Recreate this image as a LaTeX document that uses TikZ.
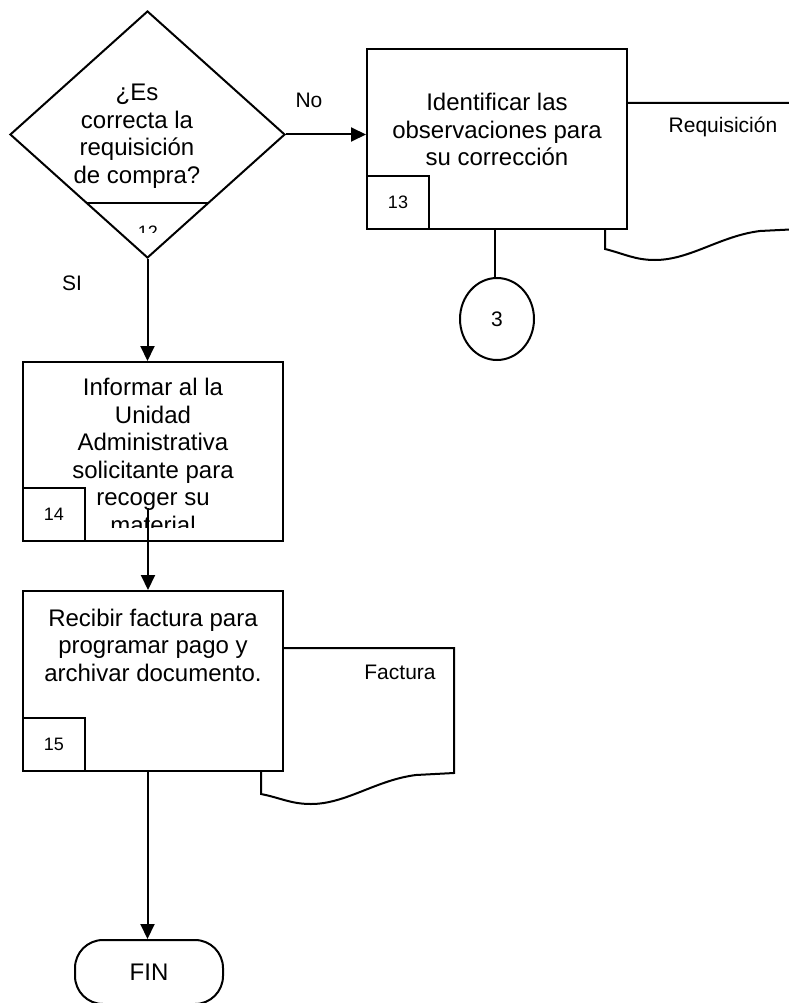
\documentclass[tikz,border=0pt]{standalone}
\usepackage{fontspec}
\setmainfont{Liberation Sans}
\usetikzlibrary{shapes.geometric,arrows.meta}
\tikzset{
  conn/.style={draw, line width=2pt},
  flow/.style={draw, line width=2pt, -{Triangle[length=15pt,width=14pt]}},
  stepbox/.style={draw, line width=2pt, fill=white, rectangle, inner sep=0pt,
                  minimum width=260pt, minimum height=180pt},
  numbox/.style={draw, line width=2pt, fill=white, rectangle, inner sep=0pt,
                 minimum width=62pt, minimum height=53pt, font=\fontsize{18}{20}\selectfont},
  bigtxt/.style={align=center, inner sep=0pt, font=\fontsize{24}{27.5}\selectfont},
  smalltxt/.style={inner sep=0pt, font=\fontsize{21}{24}\selectfont},
  doc/.style={draw, line width=2pt, fill=white},
}
\begin{document}
\begin{tikzpicture}[x=1pt,y=-1pt]
\useasboundingbox (0,0) rectangle (789,1003);

% decision
\node[diamond, draw, line width=2pt, inner sep=0pt, minimum width=275pt,
      minimum height=247pt, aspect=1.113] (dec) at (147.5,134.5) {};
\path[conn] (86,203) -- (209,203);
\node[bigtxt] (dectxt) at (137,136) {¿Es\\correcta la\\requisición\\de compra?};
\begin{scope}
  \clip (86,203) rectangle (210,232);
  \node[inner sep=0pt, font=\fontsize{18}{20}\selectfont] (decnum) at (148,232) {12};
\end{scope}
\node[smalltxt] (no) at (309,100) {No};
\node[smalltxt] (si) at (72,283) {SI};

% documents behind the steps
\path[doc] (590,103) -- (800,103) -- (800,229) -- (760,231)
  .. controls (720,236) and (690,260) .. (655,260)
  .. controls (635,260) and (625,254) .. (605,249) -- (605,200);
\node[smalltxt] (req) at (723,127) {Requisición};

\path[doc] (250,648) -- (454,648) -- (454,773) -- (416,775)
  .. controls (376,780) and (346,804) .. (311,804)
  .. controls (291,804) and (281,798) .. (261,794) -- (261,740);
\node[smalltxt] (fact) at (400,672) {Factura};

% step 13
\node[stepbox] (s13) at (497,139) {};
\node[bigtxt] (s13t) at (497,129.5) {Identificar las\\observaciones para\\su corrección};
\node[numbox, anchor=south west] (n13) at (s13.south west) {13};

% connector circle
\node[ellipse, draw, line width=2pt, inner sep=0pt, minimum width=74pt,
      minimum height=82pt, font=\fontsize{21}{24}\selectfont] (c3) at (497,319) {3};

% step 14
\node[stepbox, minimum height=179pt] (s14) at (153,451.5) {};
\begin{scope}
  \clip (23,362) rectangle (283,527);
  \node[bigtxt] (s14t) at (153,456) {Informar al la\\Unidad\\Administrativa\\solicitante para\\recoger su\\material};
\end{scope}
\node[numbox, anchor=south west] (n14) at (s14.south west) {14};

% step 15
\node[stepbox] (s15) at (153,681) {};
\node[bigtxt] (s15t) at (153,645) {Recibir factura para\\programar pago y\\archivar documento.};
\node[numbox, anchor=south west] (n15) at (s15.south west) {15};

% end
\node[draw, line width=2pt, rounded corners=28pt, inner sep=0pt, minimum width=148pt,
      minimum height=64pt, font=\fontsize{24}{27}\selectfont] (fin) at (149,972) {FIN};

% connectors
\coordinate (s14out) at (148,508);
\path[flow] (dec.east) -- (dec.east -| s13.west);
\path[conn] (s13.south -| 495,0) -- (c3.north -| 495,0);
\path[flow] (dec.south) -- (dec.south |- s14.north);
\path[flow] (s14out) -- (s14out |- s15.north);
\path[flow] (s15.south -| dec.south) -- (dec.south |- fin.north);
\end{tikzpicture}
\end{document}
